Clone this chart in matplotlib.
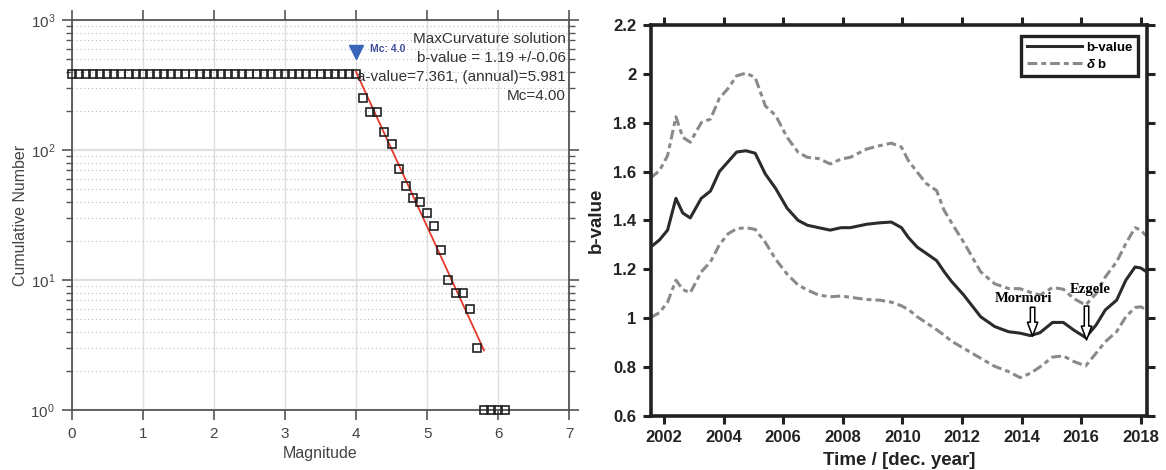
import matplotlib
matplotlib.use("Agg")
import matplotlib.pyplot as plt
from matplotlib.ticker import LogLocator, NullFormatter

plt.rcParams['font.family'] = ['Liberation Sans', 'DejaVu Sans']
plt.rcParams['mathtext.fontset'] = 'custom'
plt.rcParams['mathtext.rm'] = 'Liberation Sans'
plt.rcParams['mathtext.it'] = 'Liberation Sans:italic:bold'

# ── left panel: cumulative frequency-magnitude distribution ───────────────
mags = [round(0.1 * i, 1) for i in range(62)]
cum_counts = ([384] * 41 +  # flat plateau 0.0 .. 4.0
              [250, 195, 195, 138, 111, 72, 53, 43, 40, 33, 26, 17, 10, 8, 8, 6, 3,
               1, 1, 1, 1])
a_value, b_value = 7.361, 1.19
mc = 4.0
mc_count = 570
fit_range = [4.0, 5.8]
fit_text = ["MaxCurvature solution", "b-value = 1.19 +/-0.06",
            "a-value=7.361, (annual)=5.981", "Mc=4.00"]

# ── right panel: b-value through time ────────────────────────────────────
years = [2001.55, 2001.85, 2002.12, 2002.40, 2002.63, 2002.88, 2003.25, 2003.56,
         2003.86, 2004.15, 2004.44, 2004.75, 2005.06, 2005.40, 2005.75, 2006.13,
         2006.50, 2006.81, 2007.19, 2007.58, 2007.94, 2008.25, 2008.80, 2009.25,
         2009.63, 2009.97, 2010.20, 2010.50, 2010.81, 2011.15, 2011.40, 2011.65,
         2012.06, 2012.63, 2013.10, 2013.56, 2013.95, 2014.30, 2014.62, 2015.04,
         2015.40, 2015.75, 2016.15, 2016.50, 2016.81, 2017.19, 2017.50, 2017.81,
         2018.00, 2018.20]
b_vals = [1.29, 1.32, 1.36, 1.49, 1.43, 1.41, 1.49, 1.52, 1.60, 1.64, 1.68, 1.685,
          1.675, 1.59, 1.53, 1.45, 1.40, 1.38, 1.37, 1.36, 1.37, 1.37, 1.384, 1.39,
          1.393, 1.37, 1.33, 1.29, 1.264, 1.235, 1.19, 1.15, 1.094, 1.005, 0.965,
          0.944, 0.938, 0.928, 0.94, 0.982, 0.982, 0.951, 0.92, 0.971, 1.033, 1.073,
          1.155, 1.209, 1.205, 1.189]
b_upper = [1.573, 1.604, 1.665, 1.824, 1.74, 1.72, 1.80, 1.815, 1.90, 1.94, 1.992,
           2.003, 1.985, 1.869, 1.829, 1.74, 1.679, 1.658, 1.653, 1.631, 1.651,
           1.658, 1.692, 1.706, 1.716, 1.70, 1.645, 1.597, 1.55, 1.522, 1.441, 1.39,
           1.31, 1.189, 1.14, 1.121, 1.12, 1.105, 1.094, 1.125, 1.118, 1.08, 1.053,
           1.10, 1.168, 1.23, 1.305, 1.37, 1.36, 1.335]
b_lower = [1.002, 1.022, 1.065, 1.155, 1.117, 1.103, 1.189, 1.23, 1.30, 1.345, 1.366,
           1.37, 1.363, 1.31, 1.24, 1.18, 1.135, 1.115, 1.094, 1.087, 1.09, 1.085,
           1.076, 1.073, 1.065, 1.05, 1.035, 1.005, 0.98, 0.952, 0.93, 0.905, 0.876,
           0.835, 0.802, 0.781, 0.756, 0.774, 0.80, 0.84, 0.845, 0.822, 0.804, 0.856,
           0.903, 0.944, 1.005, 1.043, 1.046, 1.033]
events = ["Mormori", "Ezgele"]
event_year = [2014.37, 2016.18]
event_arrow = [(1.044, 0.926), (1.049, 0.910)]
event_label_pos = [(2014.08, 1.081), (2016.29, 1.118)]

fig = plt.figure(figsize=(11.66, 4.70), dpi=100)

# left
ax1 = fig.add_axes([71.7 / 1166, 60 / 470, 497.6 / 1166, 390 / 470])
grey_txt = "#444444"
ax1.set_xlim(0, 7)
ax1.set_ylim(1, 1000)
ax1.set_yscale("log")
ax1.yaxis.set_minor_locator(LogLocator(base=10, subs=range(2, 10)))
ax1.yaxis.set_minor_formatter(NullFormatter())
ax1.set_xticks(range(8))
ax1.grid(True, which="major", axis="x", color="#dedede", lw=1.0)
ax1.grid(True, which="major", axis="y", color="#dedede", lw=1.6)
ax1.grid(True, which="minor", axis="y", color="#bdbdbd", lw=0.8, ls=(0, (1, 2.5)))
for s in ax1.spines.values():
    s.set_color("#555555")
    s.set_linewidth(1.3)
ax1.tick_params(which="major", direction="out", length=7, width=1.2, color="#555555",
                top=True, right=True, labelsize=11, labelcolor=grey_txt, pad=5)
ax1.tick_params(which="minor", direction="out", length=4, width=1.0, color="#555555",
                right=True)
ax1.tick_params(axis="x", which="minor", bottom=False, top=False)
ax1.set_xlabel("Magnitude", fontsize=11.5, color=grey_txt, labelpad=4)
ax1.set_ylabel("Cumulative Number", fontsize=11.5, color=grey_txt, labelpad=2)

ax1.plot(fit_range, [10 ** (a_value - b_value * m) for m in fit_range],
         color="#e8382b", lw=1.3, zorder=3)
ax1.plot(mags, cum_counts, ls="none", marker="s", ms=5.8, mfc="none", mec="#222222",
         mew=1.2, clip_on=False, zorder=4)
ax1.plot([mc], [mc_count], marker="v", ms=10, color="#3a64b8", ls="none", zorder=5)
ax1.annotate("Mc: 4.0", xy=(mc, mc_count), xytext=(10, 2), textcoords="offset points",
             color="#3e4f9e", fontsize=7.5, fontweight="bold", va="center", ha="left")
# one text per line of the fit summary, right-aligned inside the axes
for i, line in enumerate(fit_text):
    ax1.text(0.993, (410 - 39 - 19 * i) / 390, line, transform=ax1.transAxes,
             ha="right", va="center", fontsize=11, color="#333333")

# right
ax2 = fig.add_axes([650.5 / 1166, 54.3 / 470, 496.5 / 1166, 390.7 / 470])
ax2.set_xlim(2001.547, 2018.21)
ax2.set_ylim(0.6, 2.2)
ax2.set_xticks(range(2002, 2019, 2))
ax2.set_yticks([0.6, 0.8, 1.0, 1.2, 1.4, 1.6, 1.8, 2.0, 2.2])
ax2.set_yticklabels(["0.6", "0.8", "1", "1.2", "1.4", "1.6", "1.8", "2", "2.2"])
for s in ax2.spines.values():
    s.set_color("#222222")
    s.set_linewidth(2.6)
ax2.tick_params(direction="out", length=6, width=2.2, color="#222222", top=True,
                right=True, labelsize=12, pad=4)
for lab in ax2.get_xticklabels() + ax2.get_yticklabels():
    lab.set_fontweight("bold")
    lab.set_color("#222222")
ax2.set_xlabel("Time / [dec. year]", fontsize=13.5, fontweight="bold", color="#222222",
               labelpad=5)
ax2.set_ylabel("b-value", fontsize=13.5, fontweight="bold", color="#222222", labelpad=6)

dash = (0, (3.2, 1.3, 1.6, 1.3))
ax2.plot(years, b_vals, color="#2b2b2b", lw=2.2, label="b-value", zorder=3)
ax2.plot(years, b_upper, color="#8a8a8a", lw=2.2, ls=dash, label=r"$\delta$ b", zorder=2)
ax2.plot(years, b_lower, color="#8a8a8a", lw=2.2, ls=dash, zorder=2)

for name, yr, (y0, y1), (lx, ly) in zip(events, event_year, event_arrow, event_label_pos):
    ax2.annotate("", xy=(yr, y1), xytext=(yr, y0),
                 arrowprops=dict(arrowstyle="simple,head_length=1.0,head_width=0.75,"
                                            "tail_width=0.32",
                                 fc="white", ec="black", lw=1.1, mutation_scale=10,
                                 shrinkA=0, shrinkB=0), zorder=6)
    ax2.text(lx, ly, name, family=["Liberation Serif", "DejaVu Serif"],
             fontweight="bold", fontsize=10.5, ha="center", va="center", zorder=6)

leg = ax2.legend(loc="upper right", bbox_to_anchor=(0.981, 0.971),
                 prop={"weight": "bold", "size": 9.5}, handlelength=4.2,
                 handletextpad=0.3, borderpad=0.4, labelspacing=0.3, fancybox=False,
                 framealpha=1, edgecolor="#222222", borderaxespad=0)
leg.get_frame().set_linewidth(2.4)

fig.savefig("out.png", dpi=100)
